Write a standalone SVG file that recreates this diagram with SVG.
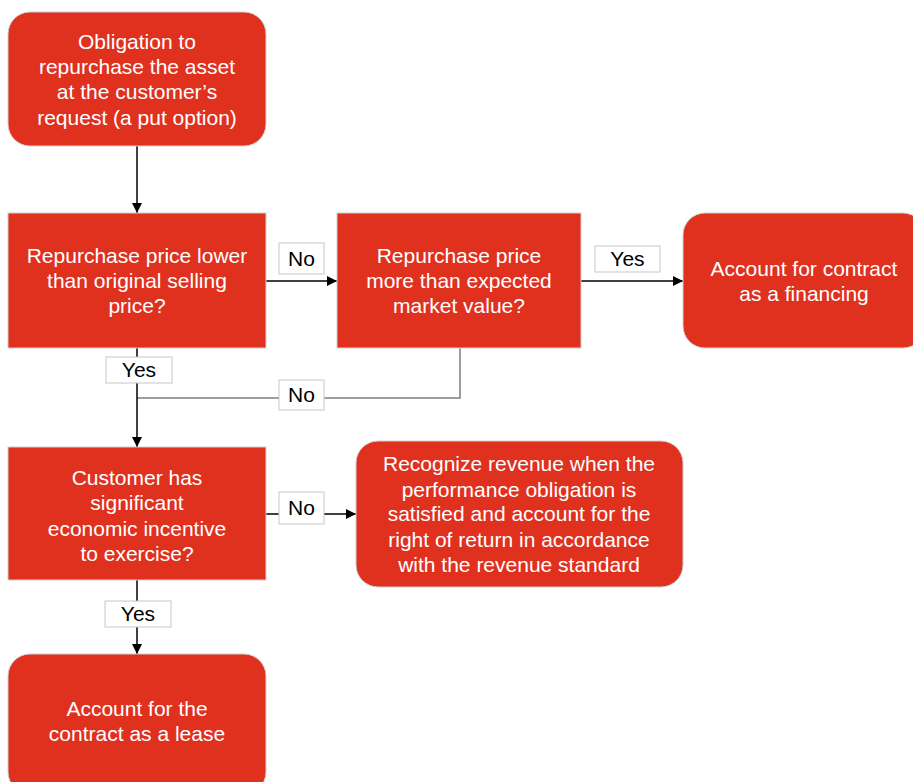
<svg xmlns="http://www.w3.org/2000/svg" width="913" height="782" viewBox="0 0 913 782">
<style>
.n{fill:#E0311F;stroke:#d0d0d0;stroke-width:1}
.t{font-family:"Liberation Sans",Arial,sans-serif;font-size:21px;fill:#fff;text-anchor:middle}
.lb{fill:#fff;stroke:#c8c8c8;stroke-width:1}
.lt{font-family:"Liberation Sans",Arial,sans-serif;font-size:21px;fill:#000;text-anchor:middle}
.c{fill:none;stroke:#000;stroke-width:1.5}
.g{fill:none;stroke:#7f7f7f;stroke-width:1.5}
</style>
<defs>
<marker id="ah" viewBox="0 0 10 10" refX="10" refY="5" markerWidth="10" markerHeight="10" markerUnits="userSpaceOnUse" orient="auto"><path d="M0,0L10,5L0,10z" fill="#000"/></marker>
</defs>
<rect width="913" height="782" fill="#fff"/>
<g id="connectors">
<path class="c" d="M137,146V213" marker-end="url(#ah)"/>
<path class="c" d="M266,281H337" marker-end="url(#ah)"/>
<path class="c" d="M581,281H683" marker-end="url(#ah)"/>
<path class="g" d="M460,348V398H137"/>
<path class="c" d="M137,348V447" marker-end="url(#ah)"/>
<path class="c" d="M266,514H279M324,514H356" marker-end="url(#ah)"/>
<path class="c" d="M137,580V654" marker-end="url(#ah)"/>
<g id="label-no1"><rect class="lb" x="279" y="243" width="45" height="31"/><text class="lt" x="301.5" y="266">No</text></g>
<g id="label-yes1"><rect class="lb" x="595" y="246" width="65" height="26"/><text class="lt" x="627.5" y="266">Yes</text></g>
<g id="label-yes2"><rect class="lb" x="106" y="357" width="66" height="26"/><text class="lt" x="139" y="377">Yes</text></g>
<g id="label-no2"><rect class="lb" x="279" y="380" width="45" height="30"/><text class="lt" x="301.5" y="402">No</text></g>
<g id="label-no3"><rect class="lb" x="279" y="492" width="45" height="32"/><text class="lt" x="301.5" y="515">No</text></g>
<g id="label-yes3"><rect class="lb" x="105" y="601" width="66" height="26"/><text class="lt" x="138" y="621">Yes</text></g>
</g>
<g id="n1"><rect class="n" x="8" y="12" width="258" height="134" rx="22"/>
<text class="t" x="137"><tspan x="137" y="49">Obligation to</tspan><tspan x="137" y="74">repurchase the asset</tspan><tspan x="137" y="99">at the customer’s</tspan><tspan x="137" y="125">request (a put option)</tspan></text></g>
<g id="n2"><rect class="n" x="8" y="213" width="258" height="135"/>
<text class="t"><tspan x="137" y="263">Repurchase price lower</tspan><tspan x="137" y="288">than original selling</tspan><tspan x="137" y="313">price?</tspan></text></g>
<g id="n3"><rect class="n" x="337" y="213" width="244" height="135"/>
<text class="t"><tspan x="459" y="263">Repurchase price</tspan><tspan x="459" y="288">more than expected</tspan><tspan x="459" y="313">market value?</tspan></text></g>
<g id="n4"><rect class="n" x="683" y="213" width="242" height="135" rx="22"/>
<text class="t"><tspan x="804" y="276">Account for contract</tspan><tspan x="804" y="301">as a financing</tspan></text></g>
<g id="n5"><rect class="n" x="8" y="447" width="258" height="133"/>
<text class="t"><tspan x="137" y="485">Customer has</tspan><tspan x="137" y="510">significant</tspan><tspan x="137" y="536">economic incentive</tspan><tspan x="137" y="561">to exercise?</tspan></text></g>
<g id="n6"><rect class="n" x="356" y="441" width="327" height="146" rx="22"/>
<text class="t"><tspan x="519" y="471">Recognize revenue when the</tspan><tspan x="519" y="497">performance obligation is</tspan><tspan x="519" y="521">satisfied and account for the</tspan><tspan x="519" y="547">right of return in accordance</tspan><tspan x="519" y="572">with the revenue standard</tspan></text></g>
<g id="n7"><rect class="n" x="8" y="654" width="258" height="140" rx="22"/>
<text class="t"><tspan x="137" y="716">Account for the</tspan><tspan x="137" y="741">contract as a lease</tspan></text></g>
</svg>
